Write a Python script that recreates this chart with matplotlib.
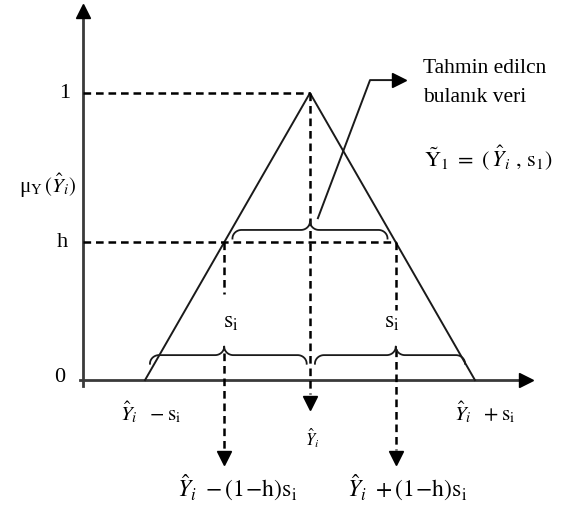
import matplotlib.pyplot as plt
import numpy as np

plt.rcParams['mathtext.fontset'] = 'stix'
plt.rcParams['font.family'] = ['Liberation Serif', 'DejaVu Serif']
plt.rcParams['lines.scale_dashes'] = False

# Triangular fuzzy number: centre Y_hat, spread s, cut level h
center = 0.0
spread = 1.0
h = 0.48

tri_x = [center - spread, center, center + spread]
tri_y = [0.0, 1.0, 0.0]

fig = plt.figure(figsize=(5.68, 5.11), dpi=100)
ax = fig.add_axes([0, 0, 1, 1])
ax.set_xlim(-1.879, 1.564)
ax.set_ylim(-0.456, 1.324)
ax.axis('off')

dash = dict(color='black', lw=1.8, dashes=(5.5, 3.5))
ink = '#1a1a1a'

# axes with arrow heads
ax_x0 = -1.376
ax.plot([ax_x0, ax_x0], [-0.02, 1.27], color='#3a3a3a', lw=2.0)
ax.plot([ax_x0 - 0.02, 1.30], [0, 0], color='#3a3a3a', lw=2.0)
ax.plot(ax_x0, 1.285, marker='^', ms=10, color='black')
ax.plot(1.31, 0, marker='>', ms=10, color='black')

# membership function
ax.plot(tri_x, tri_y, color=ink, lw=1.4)

lo = center - (1 - h) * spread
hi = center + (1 - h) * spread

# guide lines
ax.plot([ax_x0, center], [1, 1], **dash)
ax.plot([ax_x0, hi], [h, h], **dash)
ax.plot([center, center], [1, -0.05], **dash)
ax.plot(center, -0.08, marker='v', ms=10, color='black')

ax.plot([lo, lo], [h, 0.30], **dash)
ax.plot([lo, lo], [0.095, -0.245], **dash)
ax.plot(lo, -0.27, marker='v', ms=10, color='black')

ax.plot([hi, hi], [h, 0.245], **dash)
ax.plot([hi, hi], [0.11, -0.245], **dash)
ax.plot(hi, -0.27, marker='v', ms=10, color='black')


def brace(ax, x0, x1, xc, y, rx=0.055, ry=0.03):
    q = np.linspace(0, np.pi / 2, 20)
    xs, ys = [], []
    # left end curling down
    xs += list(x0 + rx - rx * np.cos(q)); ys += list(y - ry + ry * np.sin(q))
    # up to cusp
    xs += list(xc - rx + rx * np.sin(q)); ys += list(y + ry - ry * np.cos(q))
    # down from cusp
    xs += list(xc + rx - rx * np.cos(q)); ys += list(y + ry - ry * np.sin(q))
    # right end curling down
    xs += list(x1 - rx + rx * np.sin(q)); ys += list(y - ry + ry * np.cos(q))
    ax.plot(xs, ys, color=ink, lw=1.3)


brace(ax, lo + 0.05, hi - 0.05, center, 0.523)
brace(ax, center - spread + 0.03, center - 0.02, lo, 0.087)
brace(ax, center + 0.03, center + spread - 0.06, hi, 0.087)

# leader arrow to the note
ax.plot([0.048, 0.364, 0.50], [0.564, 1.045, 1.045], color=ink, lw=1.4)
ax.plot(0.54, 1.045, marker='>', ms=10, color='black')

fs = 16
ax.text(-1.485, 1.0, '1', fontsize=fs, ha='center', va='center')
ax.text(-1.503, h, 'h', fontsize=fs, ha='center', va='center')
ax.text(-1.515, 0.01, '0', fontsize=fs, ha='center', va='center')
ax.text(-1.588, 0.676, r'μ$_{\rm Y}\,(\hat{Y}_i)$', fontsize=15, ha='center', va='center')

ax.text(0.685, 1.087, 'Tahmin edilcn', fontsize=15.5, ha='left', va='center')
ax.text(0.685, 0.986, 'bulanık veri', fontsize=15.5, ha='left', va='center')
ax.text(0.69, 0.774, r'$\tilde{\rm Y}_1\ =\ (\,\hat{Y}_i\ ,\,{\rm s}_1)$', fontsize=16,
        ha='left', va='center')

ax.text(-0.479, 0.199, r'${\rm s}_{\rm i}$', fontsize=17, ha='center', va='center')
ax.text(0.497, 0.199, r'${\rm s}_{\rm i}$', fontsize=17, ha='center', va='center')

ax.text(-0.964, -0.111, r'$\hat{Y}_i\ \ -{\rm s}_{\rm i}$', fontsize=15, ha='center', va='center')
ax.text(0.012, -0.202, r'$\hat{Y}_i$', fontsize=12, ha='center', va='center')
ax.text(1.06, -0.111, r'$\hat{Y}_i\ \ +{\rm s}_{\rm i}$', fontsize=15, ha='center', va='center')
ax.text(-0.442, -0.376, r'$\hat{Y}_i\ -(1\!-\!{\rm h}){\rm s}_{\rm i}$', fontsize=17,
        ha='center', va='center')
ax.text(0.588, -0.376, r'$\hat{Y}_i\ +(1\!-\!{\rm h}){\rm s}_{\rm i}$', fontsize=17,
        ha='center', va='center')

fig.savefig('out.png', dpi=100)
